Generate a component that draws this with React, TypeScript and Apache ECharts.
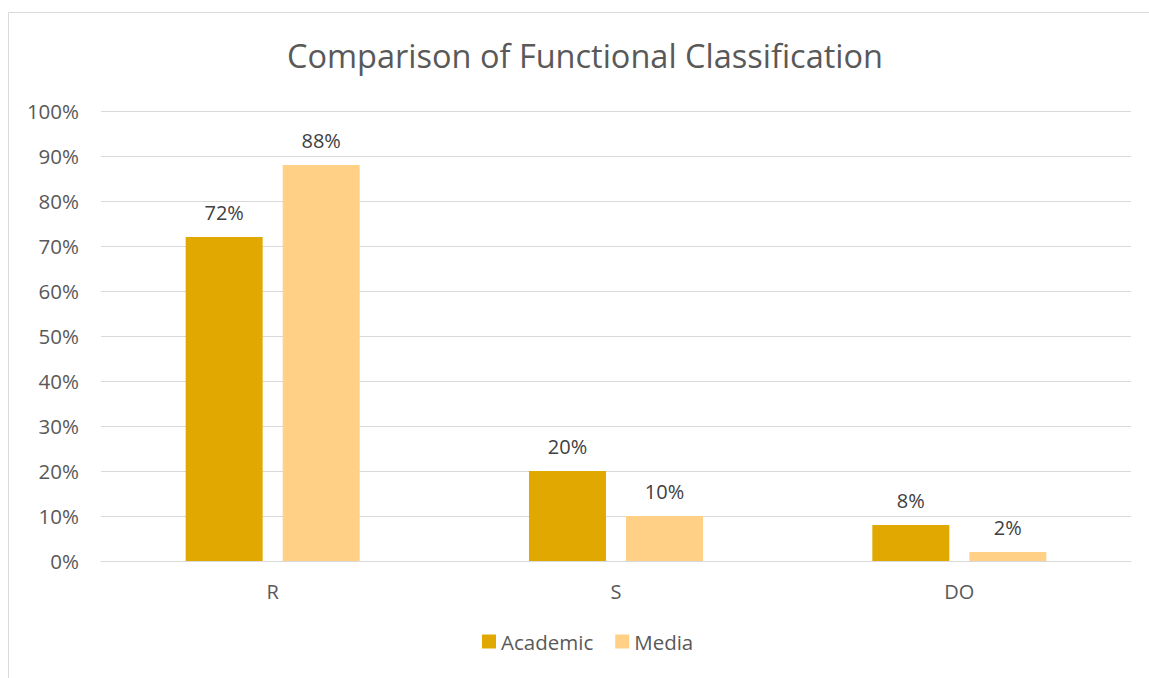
import React, { useEffect, useRef } from "react";
import * as echarts from "echarts";

const categories = ["R", "S", "DO"];
const academic = [0.72, 0.2, 0.08];
const media = [0.88, 0.1, 0.02];
const seriesNames = ["Academic", "Media"];

const FONT = "'Open Sans', 'Noto Sans', sans-serif";
const TEXT = "#595959";
const LABEL = "#404040";
const GRID = "#d9d9d9";

const pct = (v: number) => `${Math.round(v * 100)}%`;

export default function App() {
  const ref = useRef<HTMLDivElement>(null);

  useEffect(() => {
    if (!ref.current) return;
    const chart = echarts.init(ref.current, undefined, { renderer: "svg" });
    const label = {
      show: true,
      position: "top" as const,
      distance: 15,
      color: LABEL,
      fontFamily: FONT,
      fontSize: 20,
      formatter: (p: any) => pct(p.value),
    };
    chart.setOption({
      animation: false,
      backgroundColor: "#ffffff",
      textStyle: { fontFamily: FONT },
      title: {
        text: "Comparison of Functional Classification",
        left: 580,
        textAlign: "center",
        top: 34,
        textStyle: { color: TEXT, fontFamily: FONT, fontSize: 32.5, fontWeight: "normal" },
      },
      graphic: [
        {
          type: "rect",
          shape: { x: 8.5, y: 12.5, width: 1200, height: 720 },
          style: { fill: "none", stroke: GRID, lineWidth: 1 },
          silent: true,
        },
      ],
      legend: {
        bottom: 21,
        left: 477,
        itemWidth: 14,
        itemHeight: 14,
        itemGap: 22,
        icon: "rect",
        textStyle: { color: TEXT, fontFamily: FONT, fontSize: 20.5 },
        data: seriesNames,
      },
      grid: { left: 101, right: 18, top: 111, bottom: 117 },
      xAxis: {
        type: "category",
        data: categories,
        axisLine: { show: true, lineStyle: { color: GRID, width: 1 } },
        axisTick: { show: false },
        axisLabel: { color: TEXT, fontFamily: FONT, fontSize: 20, margin: 20 },
      },
      yAxis: {
        type: "value",
        min: 0,
        max: 1,
        interval: 0.1,
        axisLine: { show: false },
        axisTick: { show: false },
        splitLine: { lineStyle: { color: GRID, width: 1 } },
        axisLabel: {
          color: TEXT,
          fontFamily: FONT,
          fontSize: 20.5,
          margin: 22,
          formatter: (v: number) => pct(v),
        },
      },
      series: [
        {
          name: seriesNames[0],
          type: "bar",
          data: academic,
          barWidth: 77,
          barGap: "26%",
          itemStyle: { color: "#E0A800" },
          label,
        },
        {
          name: seriesNames[1],
          type: "bar",
          data: media,
          barWidth: 77,
          barGap: "26%",
          itemStyle: { color: "#FFD085" },
          label,
        },
      ],
    });
    return () => chart.dispose();
  }, []);

  return (
    <div
      ref={ref}
      style={{ position: "fixed", left: 0, top: 0, width: 1149, height: 678 }}
    />
  );
}
